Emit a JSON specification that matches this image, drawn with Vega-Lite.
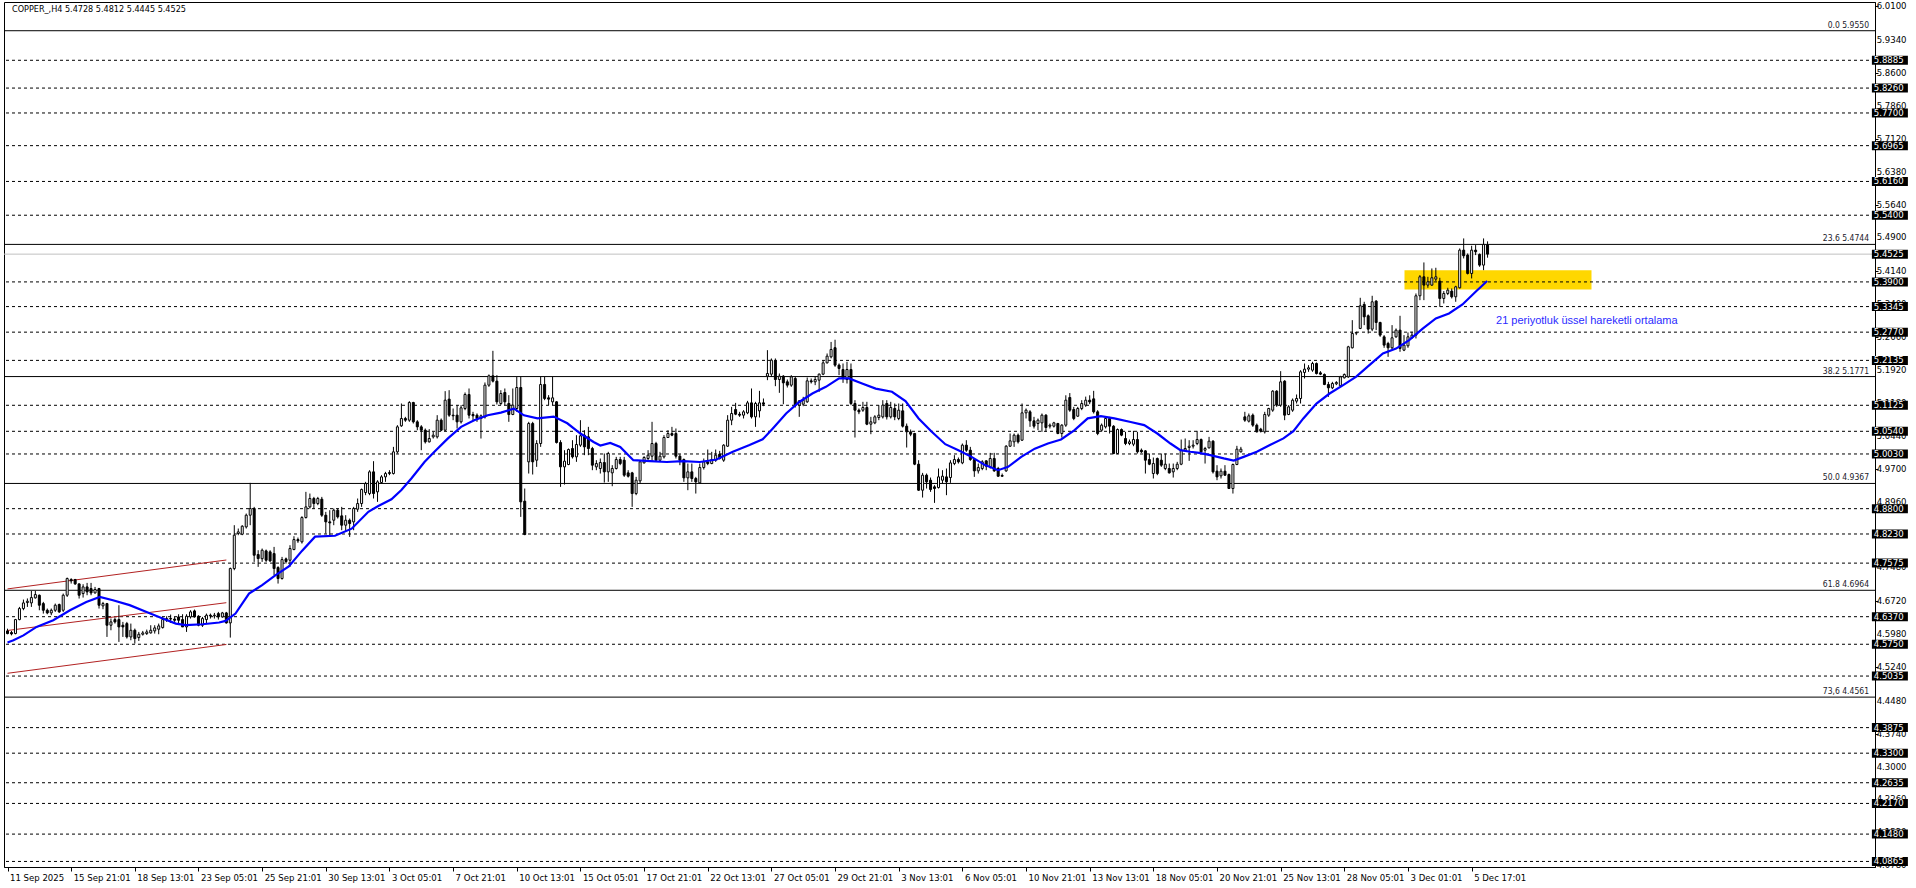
{
"$schema": "https://vega.github.io/schema/vega-lite/v6.json",
"width": 1871, "height": 865,
"autosize": {"type": "none"},
"padding": {"left": 4, "top": 2, "right": 41, "bottom": 21},
"background": "white",
"config": {"view": {"stroke": "black", "strokeWidth": 1}, "font": "DejaVu Sans Condensed, Liberation Sans, sans-serif",
 "axis": {"grid": false, "title": null, "tickColor": "black", "domainColor": "black", "labelColor": "black", "labelFontSize": 9.5, "labelOverlap": false, "labelFlush": false, "labelBound": false},
 "axisX": {"tickSize": 4, "labelAlign": "left", "labelOffset": 2, "labelPadding": 1, "labelBaseline": "top"},
 "axisY": {"tickSize": 3, "labels": false}},
"datasets": {
"ylabs": [{"v":6.01},{"v":5.934},{"v":5.86},{"v":5.786},{"v":5.712},{"v":5.638},{"v":5.564},{"v":5.49},{"v":5.414},{"v":5.34},{"v":5.266},{"v":5.192},{"v":5.118},{"v":5.044},{"v":4.97},{"v":4.896},{"v":4.822},{"v":4.748},{"v":4.672},{"v":4.598},{"v":4.524},{"v":4.448},{"v":4.374},{"v":4.3},{"v":4.226},{"v":4.152},{"v":4.078}],
"levels": [{"v":5.8885},{"v":5.826},{"v":5.77},{"v":5.6965},{"v":5.616},{"v":5.54},{"v":5.39},{"v":5.3345},{"v":5.277},{"v":5.2135},{"v":5.1125},{"v":5.054},{"v":5.003},{"v":4.88},{"v":4.823},{"v":4.7575},{"v":4.637},{"v":4.575},{"v":4.5035},{"v":4.3875},{"v":4.33},{"v":4.2635},{"v":4.217},{"v":4.148},{"v":4.0865}],
"boxes": [{"v":5.8885},{"v":5.826},{"v":5.77},{"v":5.6965},{"v":5.616},{"v":5.54},{"v":5.4525},{"v":5.39},{"v":5.3345},{"v":5.277},{"v":5.2135},{"v":5.1125},{"v":5.054},{"v":5.003},{"v":4.88},{"v":4.823},{"v":4.7575},{"v":4.637},{"v":4.575},{"v":4.5035},{"v":4.3875},{"v":4.33},{"v":4.2635},{"v":4.217},{"v":4.148},{"v":4.0865}],
"fib": [{"v":5.955,"t":"0.0 5.9550"},{"v":5.4744,"t":"23.6 5.4744"},{"v":5.1771,"t":"38.2 5.1771"},{"v":4.9367,"t":"50.0 4.9367"},{"v":4.6964,"t":"61.8 4.6964"},{"v":4.4561,"t":"73,6 4.4561"}],
"zone": [{"x1":351.125,"x2":398.125,"y1":5.373,"y2":5.4165}],
"chan": [{"g":"a","i":0,"p":4.6995},{"g":"a","i":55,"p":4.7645},{"g":"b","i":0,"p":4.606},{"g":"b","i":55,"p":4.6685},{"g":"c","i":0,"p":4.5097},{"g":"c","i":55,"p":4.5745}],
"ema": [{"i":0,"p":4.579},{"i":1.5,"p":4.584},{"i":4,"p":4.595},{"i":7.3,"p":4.614},{"i":11.5,"p":4.629},{"i":15.7,"p":4.6515},{"i":19.8,"p":4.67},{"i":23.2,"p":4.6815},{"i":26.5,"p":4.674},{"i":30.7,"p":4.663},{"i":34.8,"p":4.648},{"i":39,"p":4.633},{"i":42.3,"p":4.6215},{"i":44.8,"p":4.618},{"i":49,"p":4.62},{"i":53.2,"p":4.624},{"i":54.8,"p":4.6275},{"i":57.3,"p":4.644},{"i":60.7,"p":4.689},{"i":64,"p":4.708},{"i":67.3,"p":4.73},{"i":70.7,"p":4.75},{"i":74,"p":4.785},{"i":77.3,"p":4.817},{"i":82.3,"p":4.819},{"i":86.5,"p":4.835},{"i":90.7,"p":4.873},{"i":93.2,"p":4.886},{"i":96.5,"p":4.901},{"i":99,"p":4.922},{"i":101.5,"p":4.948},{"i":104.8,"p":4.985},{"i":107.3,"p":5.008},{"i":110.7,"p":5.038},{"i":114,"p":5.064},{"i":117.3,"p":5.079},{"i":120.7,"p":5.09},{"i":124,"p":5.096},{"i":127.3,"p":5.105},{"i":129.8,"p":5.09},{"i":133.2,"p":5.083},{"i":137.3,"p":5.087},{"i":140.7,"p":5.072},{"i":144,"p":5.049},{"i":147.3,"p":5.03},{"i":149,"p":5.022},{"i":151.5,"p":5.028},{"i":154,"p":5.019},{"i":157.3,"p":4.989},{"i":161.5,"p":4.987},{"i":165.7,"p":4.985},{"i":169.8,"p":4.987},{"i":174,"p":4.985},{"i":178.2,"p":4.9905},{"i":182.3,"p":5.008},{"i":186.5,"p":5.023},{"i":189.8,"p":5.036},{"i":192.3,"p":5.06},{"i":195.7,"p":5.094},{"i":199,"p":5.12},{"i":202.3,"p":5.139},{"i":205.7,"p":5.154},{"i":209,"p":5.173},{"i":211.5,"p":5.173},{"i":214.8,"p":5.1615},{"i":218.2,"p":5.15},{"i":222.3,"p":5.143},{"i":225.7,"p":5.122},{"i":229,"p":5.083},{"i":232.3,"p":5.053},{"i":235.7,"p":5.025},{"i":239,"p":5.0115},{"i":242.3,"p":4.9965},{"i":245.7,"p":4.978},{"i":249,"p":4.9665},{"i":251.5,"p":4.974},{"i":254.8,"p":4.9965},{"i":258.2,"p":5.015},{"i":261.5,"p":5.0265},{"i":264.8,"p":5.0355},{"i":268.2,"p":5.0565},{"i":271.5,"p":5.083},{"i":274.8,"p":5.088},{"i":278.2,"p":5.083},{"i":282.3,"p":5.075},{"i":285.7,"p":5.068},{"i":289,"p":5.049},{"i":292.3,"p":5.0265},{"i":294.8,"p":5.0115},{"i":297.3,"p":5.008},{"i":299.5,"p":5.0055},{"i":302.3,"p":5.0003},{"i":305.7,"p":4.993},{"i":308.2,"p":4.9883},{"i":310.7,"p":4.9965},{"i":314,"p":5.008},{"i":317.3,"p":5.023},{"i":320.7,"p":5.038},{"i":323.2,"p":5.0543},{"i":325.7,"p":5.083},{"i":329,"p":5.1165},{"i":332.3,"p":5.139},{"i":335.7,"p":5.158},{"i":339,"p":5.177},{"i":342.3,"p":5.203},{"i":345.7,"p":5.229},{"i":349,"p":5.24},{"i":352.3,"p":5.259},{"i":355.7,"p":5.285},{"i":359,"p":5.3078},{"i":362.3,"p":5.319},{"i":365.7,"p":5.3393},{"i":369,"p":5.3678},{"i":371.9,"p":5.392}],
"candles": [
{"i":0,"o":4.605,"h":4.61,"l":4.5975,"c":4.599},
{"i":1,"o":4.6013,"h":4.605,"l":4.595,"c":4.5983},
{"i":2,"o":4.599,"h":4.632,"l":4.5975,"c":4.6305},
{"i":3,"o":4.6305,"h":4.659,"l":4.629,"c":4.6553},
{"i":4,"o":4.6553,"h":4.6755,"l":4.6515,"c":4.668},
{"i":5,"o":4.6688,"h":4.678,"l":4.659,"c":4.6718},
{"i":6,"o":4.668,"h":4.695,"l":4.659,"c":4.68},
{"i":7,"o":4.6793,"h":4.695,"l":4.6778,"c":4.6868},
{"i":8,"o":4.6853,"h":4.6868,"l":4.6515,"c":4.6628},
{"i":9,"o":4.6665,"h":4.6703,"l":4.644,"c":4.6515},
{"i":10,"o":4.6515,"h":4.6553,"l":4.6425,"c":4.6455},
{"i":11,"o":4.6455,"h":4.6553,"l":4.6403,"c":4.6515},
{"i":12,"o":4.6515,"h":4.6665,"l":4.6478,"c":4.6628},
{"i":13,"o":4.6643,"h":4.6665,"l":4.6455,"c":4.6478},
{"i":14,"o":4.6515,"h":4.689,"l":4.6478,"c":4.6853},
{"i":15,"o":4.6853,"h":4.725,"l":4.6815,"c":4.7228},
{"i":16,"o":4.7205,"h":4.7235,"l":4.7115,"c":4.7175},
{"i":17,"o":4.7205,"h":4.722,"l":4.7085,"c":4.7108},
{"i":18,"o":4.7108,"h":4.7115,"l":4.6778,"c":4.6853},
{"i":19,"o":4.689,"h":4.71,"l":4.68,"c":4.704},
{"i":20,"o":4.704,"h":4.713,"l":4.6853,"c":4.6928},
{"i":21,"o":4.7003,"h":4.713,"l":4.6853,"c":4.6905},
{"i":22,"o":4.6905,"h":4.704,"l":4.689,"c":4.698},
{"i":23,"o":4.7003,"h":4.7018,"l":4.6553,"c":4.6628},
{"i":24,"o":4.6613,"h":4.6703,"l":4.6538,"c":4.6665},
{"i":25,"o":4.6665,"h":4.668,"l":4.5915,"c":4.6178},
{"i":26,"o":4.6178,"h":4.6328,"l":4.6065,"c":4.6253},
{"i":27,"o":4.6305,"h":4.635,"l":4.6215,"c":4.6253},
{"i":28,"o":4.6305,"h":4.6628,"l":4.5803,"c":4.614},
{"i":29,"o":4.6178,"h":4.6253,"l":4.5915,"c":4.614},
{"i":30,"o":4.6215,"h":4.6253,"l":4.5878,"c":4.5915},
{"i":31,"o":4.5915,"h":4.6215,"l":4.584,"c":4.6065},
{"i":32,"o":4.6065,"h":4.6103,"l":4.5765,"c":4.5878},
{"i":33,"o":4.59,"h":4.6028,"l":4.5825,"c":4.5975},
{"i":34,"o":4.5975,"h":4.605,"l":4.5945,"c":4.6005},
{"i":35,"o":4.599,"h":4.608,"l":4.596,"c":4.6028},
{"i":36,"o":4.6005,"h":4.6178,"l":4.599,"c":4.6065},
{"i":37,"o":4.605,"h":4.6178,"l":4.599,"c":4.6118},
{"i":38,"o":4.6088,"h":4.6215,"l":4.5975,"c":4.6163},
{"i":39,"o":4.6125,"h":4.6365,"l":4.6103,"c":4.6305},
{"i":40,"o":4.6298,"h":4.638,"l":4.6253,"c":4.6328},
{"i":41,"o":4.6328,"h":4.6418,"l":4.623,"c":4.6318},
{"i":42,"o":4.6318,"h":4.6365,"l":4.6253,"c":4.629},
{"i":43,"o":4.6365,"h":4.6425,"l":4.6215,"c":4.629},
{"i":44,"o":4.6305,"h":4.6425,"l":4.614,"c":4.614},
{"i":45,"o":4.614,"h":4.6425,"l":4.6028,"c":4.638},
{"i":46,"o":4.6365,"h":4.6515,"l":4.6328,"c":4.6478},
{"i":47,"o":4.65,"h":4.653,"l":4.635,"c":4.6365},
{"i":48,"o":4.638,"h":4.6403,"l":4.6155,"c":4.6178},
{"i":49,"o":4.6178,"h":4.6365,"l":4.614,"c":4.6328},
{"i":50,"o":4.6305,"h":4.644,"l":4.6215,"c":4.6403},
{"i":51,"o":4.6403,"h":4.644,"l":4.6328,"c":4.6388},
{"i":52,"o":4.6388,"h":4.6455,"l":4.6328,"c":4.6403},
{"i":53,"o":4.644,"h":4.6478,"l":4.6305,"c":4.6365},
{"i":54,"o":4.6365,"h":4.6478,"l":4.635,"c":4.6455},
{"i":55,"o":4.6455,"h":4.6478,"l":4.6215,"c":4.623},
{"i":56,"o":4.623,"h":4.7475,"l":4.59,"c":4.7453},
{"i":57,"o":4.7453,"h":4.8428,"l":4.7415,"c":4.8203},
{"i":58,"o":4.824,"h":4.8353,"l":4.8203,"c":4.8278},
{"i":59,"o":4.8225,"h":4.8428,"l":4.8203,"c":4.8405},
{"i":60,"o":4.839,"h":4.869,"l":4.8353,"c":4.8653},
{"i":61,"o":4.8653,"h":4.938,"l":4.8428,"c":4.8803},
{"i":62,"o":4.8803,"h":4.884,"l":4.7603,"c":4.7753},
{"i":63,"o":4.7768,"h":4.7865,"l":4.749,"c":4.7678},
{"i":64,"o":4.7675,"h":4.7903,"l":4.7603,"c":4.7865},
{"i":65,"o":4.785,"h":4.788,"l":4.7603,"c":4.764},
{"i":66,"o":4.7828,"h":4.7865,"l":4.7603,"c":4.7625},
{"i":67,"o":4.779,"h":4.794,"l":4.7303,"c":4.7453},
{"i":68,"o":4.7475,"h":4.7505,"l":4.7115,"c":4.7228},
{"i":69,"o":4.7228,"h":4.7715,"l":4.7205,"c":4.7655},
{"i":70,"o":4.767,"h":4.77,"l":4.7565,"c":4.761},
{"i":71,"o":4.764,"h":4.7978,"l":4.749,"c":4.7903},
{"i":72,"o":4.788,"h":4.818,"l":4.7865,"c":4.8105},
{"i":73,"o":4.8105,"h":4.815,"l":4.803,"c":4.8075},
{"i":74,"o":4.8053,"h":4.863,"l":4.8015,"c":4.86},
{"i":75,"o":4.86,"h":4.9178,"l":4.8578,"c":4.884},
{"i":76,"o":4.884,"h":4.914,"l":4.8803,"c":4.9028},
{"i":77,"o":4.9028,"h":4.9065,"l":4.8803,"c":4.8915},
{"i":78,"o":4.8915,"h":4.9065,"l":4.8878,"c":4.9028},
{"i":79,"o":4.9013,"h":4.9065,"l":4.8615,"c":4.8653},
{"i":80,"o":4.8653,"h":4.8728,"l":4.824,"c":4.8503},
{"i":81,"o":4.8503,"h":4.8765,"l":4.8203,"c":4.848},
{"i":82,"o":4.854,"h":4.8803,"l":4.8428,"c":4.8765},
{"i":83,"o":4.8765,"h":4.8803,"l":4.8578,"c":4.8615},
{"i":84,"o":4.8638,"h":4.884,"l":4.8315,"c":4.8428},
{"i":85,"o":4.8428,"h":4.8653,"l":4.8278,"c":4.854},
{"i":86,"o":4.854,"h":4.8578,"l":4.8165,"c":4.8465},
{"i":87,"o":4.8503,"h":4.884,"l":4.8315,"c":4.8803},
{"i":88,"o":4.8788,"h":4.9028,"l":4.8728,"c":4.8915},
{"i":89,"o":4.8915,"h":4.9253,"l":4.884,"c":4.923},
{"i":90,"o":4.9163,"h":4.9403,"l":4.9103,"c":4.9365},
{"i":91,"o":4.914,"h":4.9665,"l":4.9103,"c":4.9628},
{"i":92,"o":4.9628,"h":4.9868,"l":4.9028,"c":4.914},
{"i":93,"o":4.9178,"h":4.944,"l":4.8953,"c":4.9403},
{"i":94,"o":4.9388,"h":4.9553,"l":4.9365,"c":4.9515},
{"i":95,"o":4.9515,"h":4.9628,"l":4.9403,"c":4.959},
{"i":96,"o":4.959,"h":4.9665,"l":4.9553,"c":4.9613},
{"i":97,"o":4.959,"h":5.019,"l":4.9568,"c":5.0078},
{"i":98,"o":5.0078,"h":5.0678,"l":5.004,"c":5.064},
{"i":99,"o":5.0663,"h":5.1165,"l":5.064,"c":5.0828},
{"i":100,"o":5.0828,"h":5.0865,"l":5.0753,"c":5.079},
{"i":101,"o":5.079,"h":5.1218,"l":5.0753,"c":5.1188},
{"i":102,"o":5.1188,"h":5.1203,"l":5.0715,"c":5.0753},
{"i":103,"o":5.0753,"h":5.079,"l":5.0565,"c":5.064},
{"i":104,"o":5.064,"h":5.0678,"l":5.0115,"c":5.0565},
{"i":105,"o":5.0565,"h":5.0603,"l":5.0265,"c":5.0303},
{"i":106,"o":5.0303,"h":5.0588,"l":5.0288,"c":5.0378},
{"i":107,"o":5.0415,"h":5.0528,"l":5.0378,"c":5.0453},
{"i":108,"o":5.0415,"h":5.0903,"l":5.0378,"c":5.079},
{"i":109,"o":5.079,"h":5.0828,"l":5.0543,"c":5.0565},
{"i":110,"o":5.0565,"h":5.1443,"l":5.0543,"c":5.124},
{"i":111,"o":5.1263,"h":5.1465,"l":5.0865,"c":5.0903},
{"i":112,"o":5.0903,"h":5.1053,"l":5.079,"c":5.0888},
{"i":113,"o":5.0903,"h":5.1128,"l":5.0603,"c":5.0753},
{"i":114,"o":5.0753,"h":5.1128,"l":5.0715,"c":5.1068},
{"i":115,"o":5.1053,"h":5.1413,"l":5.1015,"c":5.1368},
{"i":116,"o":5.1368,"h":5.1503,"l":5.0828,"c":5.0903},
{"i":117,"o":5.0918,"h":5.0978,"l":5.079,"c":5.0888},
{"i":118,"o":5.0903,"h":5.0943,"l":5.0753,"c":5.0828},
{"i":119,"o":5.0828,"h":5.0918,"l":5.0378,"c":5.0888},
{"i":120,"o":5.0865,"h":5.1638,"l":5.0828,"c":5.1578},
{"i":121,"o":5.1578,"h":5.1818,"l":5.154,"c":5.1788},
{"i":122,"o":5.1788,"h":5.235,"l":5.1638,"c":5.1668},
{"i":123,"o":5.1668,"h":5.1803,"l":5.1143,"c":5.1203},
{"i":124,"o":5.1165,"h":5.1465,"l":5.1128,"c":5.139},
{"i":125,"o":5.1413,"h":5.1503,"l":5.1128,"c":5.1203},
{"i":126,"o":5.1165,"h":5.1353,"l":5.0753,"c":5.0918},
{"i":127,"o":5.0918,"h":5.1503,"l":5.0903,"c":5.1128},
{"i":128,"o":5.1053,"h":5.1765,"l":5.0978,"c":5.1525},
{"i":129,"o":5.1525,"h":5.1765,"l":4.8615,"c":4.8953},
{"i":130,"o":4.8968,"h":4.9253,"l":4.8203,"c":4.8218},
{"i":131,"o":4.9853,"h":5.0753,"l":4.959,"c":5.0715},
{"i":132,"o":5.0715,"h":5.0753,"l":4.9568,"c":4.9853},
{"i":133,"o":4.989,"h":5.034,"l":4.974,"c":5.0265},
{"i":134,"o":5.0265,"h":5.1765,"l":5.019,"c":5.1593},
{"i":135,"o":5.1593,"h":5.1765,"l":5.124,"c":5.1278},
{"i":136,"o":5.1293,"h":5.1353,"l":5.1128,"c":5.1263},
{"i":137,"o":5.1203,"h":5.1765,"l":5.1128,"c":5.1293},
{"i":138,"o":5.1203,"h":5.1218,"l":5.0265,"c":5.0288},
{"i":139,"o":5.0288,"h":5.034,"l":4.929,"c":4.974},
{"i":140,"o":4.974,"h":5.0115,"l":4.9343,"c":4.9868},
{"i":141,"o":4.9793,"h":5.0153,"l":4.9778,"c":5.013},
{"i":142,"o":5.0153,"h":5.034,"l":4.9928,"c":4.9965},
{"i":143,"o":4.9965,"h":5.0453,"l":4.9853,"c":5.0243},
{"i":144,"o":5.0228,"h":5.079,"l":5.019,"c":5.0438},
{"i":145,"o":5.0453,"h":5.0565,"l":5.0003,"c":5.019},
{"i":146,"o":5.0415,"h":5.064,"l":5.0003,"c":5.0153},
{"i":147,"o":5.0153,"h":5.019,"l":4.9665,"c":4.9778},
{"i":148,"o":4.974,"h":4.989,"l":4.9665,"c":4.9815},
{"i":149,"o":4.9703,"h":4.9928,"l":4.959,"c":4.9838},
{"i":150,"o":4.9838,"h":5.004,"l":4.9388,"c":4.9628},
{"i":151,"o":4.9628,"h":5.0078,"l":4.9403,"c":5.004},
{"i":152,"o":4.9605,"h":4.9778,"l":4.9305,"c":4.9703},
{"i":153,"o":4.9703,"h":4.9965,"l":4.968,"c":4.9905},
{"i":154,"o":4.9905,"h":4.9965,"l":4.9778,"c":4.9815},
{"i":155,"o":4.989,"h":4.9965,"l":4.9515,"c":4.9553},
{"i":156,"o":4.9605,"h":4.9665,"l":4.95,"c":4.953},
{"i":157,"o":4.9605,"h":4.9628,"l":4.884,"c":4.914},
{"i":158,"o":4.914,"h":4.9515,"l":4.9103,"c":4.944},
{"i":159,"o":4.9425,"h":4.989,"l":4.9365,"c":4.9853},
{"i":160,"o":4.983,"h":4.998,"l":4.9815,"c":4.995},
{"i":161,"o":4.9928,"h":5.0115,"l":4.989,"c":5.0003},
{"i":162,"o":4.998,"h":5.0753,"l":4.9853,"c":5.0265},
{"i":163,"o":5.0265,"h":5.0303,"l":4.9853,"c":4.989},
{"i":164,"o":4.989,"h":5.0078,"l":4.9875,"c":4.998},
{"i":165,"o":4.9965,"h":5.0453,"l":4.9928,"c":5.04},
{"i":166,"o":5.04,"h":5.0565,"l":5.04,"c":5.049},
{"i":167,"o":5.049,"h":5.064,"l":5.043,"c":5.0453},
{"i":168,"o":5.049,"h":5.0603,"l":4.9928,"c":4.998},
{"i":169,"o":4.998,"h":5.0025,"l":4.9778,"c":4.989},
{"i":170,"o":4.9905,"h":4.9928,"l":4.9403,"c":4.9493},
{"i":171,"o":4.9493,"h":4.9815,"l":4.9215,"c":4.9628},
{"i":172,"o":4.9628,"h":4.9815,"l":4.9403,"c":4.9478},
{"i":173,"o":4.9478,"h":4.9515,"l":4.914,"c":4.9403},
{"i":174,"o":4.938,"h":4.9815,"l":4.9365,"c":4.9725},
{"i":175,"o":4.9725,"h":4.9928,"l":4.968,"c":4.9853},
{"i":176,"o":4.9853,"h":5.013,"l":4.9778,"c":4.9815},
{"i":177,"o":4.9815,"h":5.0078,"l":4.98,"c":4.9905},
{"i":178,"o":4.989,"h":5.013,"l":4.9853,"c":5.0003},
{"i":179,"o":5.0025,"h":5.01,"l":4.9905,"c":4.9928},
{"i":180,"o":4.989,"h":5.025,"l":4.9853,"c":5.0228},
{"i":181,"o":5.0205,"h":5.0903,"l":5.019,"c":5.079},
{"i":182,"o":5.079,"h":5.109,"l":5.0678,"c":5.094},
{"i":183,"o":5.103,"h":5.118,"l":5.0903,"c":5.0925},
{"i":184,"o":5.0925,"h":5.0978,"l":5.0865,"c":5.0903},
{"i":185,"o":5.0903,"h":5.1015,"l":5.0828,"c":5.0978},
{"i":186,"o":5.0955,"h":5.1225,"l":5.0925,"c":5.118},
{"i":187,"o":5.118,"h":5.1503,"l":5.0828,"c":5.0865},
{"i":188,"o":5.0865,"h":5.1203,"l":5.064,"c":5.1165},
{"i":189,"o":5.1,"h":5.145,"l":5.085,"c":5.118},
{"i":190,"o":5.118,"h":5.1278,"l":5.1105,"c":5.115},
{"i":191,"o":5.178,"h":5.2365,"l":5.169,"c":5.184},
{"i":192,"o":5.1825,"h":5.2178,"l":5.1765,"c":5.214},
{"i":193,"o":5.2125,"h":5.2178,"l":5.1555,"c":5.1705},
{"i":194,"o":5.1705,"h":5.184,"l":5.1405,"c":5.178},
{"i":195,"o":5.178,"h":5.1803,"l":5.115,"c":5.163},
{"i":196,"o":5.1653,"h":5.1705,"l":5.1525,"c":5.1578},
{"i":197,"o":5.1578,"h":5.1803,"l":5.154,"c":5.1765},
{"i":198,"o":5.1728,"h":5.1765,"l":5.1075,"c":5.1128},
{"i":199,"o":5.1128,"h":5.124,"l":5.0865,"c":5.1225},
{"i":200,"o":5.115,"h":5.1315,"l":5.1105,"c":5.124},
{"i":201,"o":5.1203,"h":5.175,"l":5.118,"c":5.1675},
{"i":202,"o":5.1675,"h":5.1728,"l":5.1615,"c":5.1653},
{"i":203,"o":5.1653,"h":5.1765,"l":5.1578,"c":5.1705},
{"i":204,"o":5.169,"h":5.184,"l":5.1428,"c":5.1825},
{"i":205,"o":5.1825,"h":5.214,"l":5.1803,"c":5.208},
{"i":206,"o":5.208,"h":5.229,"l":5.2065,"c":5.223},
{"i":207,"o":5.2215,"h":5.255,"l":5.218,"c":5.238},
{"i":208,"o":5.242,"h":5.26,"l":5.199,"c":5.2028},
{"i":209,"o":5.2028,"h":5.2065,"l":5.1803,"c":5.1953},
{"i":210,"o":5.193,"h":5.2065,"l":5.163,"c":5.1728},
{"i":211,"o":5.1705,"h":5.2103,"l":5.1615,"c":5.193},
{"i":212,"o":5.193,"h":5.2065,"l":5.1128,"c":5.1165},
{"i":213,"o":5.1165,"h":5.124,"l":5.04,"c":5.1015},
{"i":214,"o":5.1015,"h":5.1053,"l":5.0925,"c":5.0978},
{"i":215,"o":5.1015,"h":5.1203,"l":5.0978,"c":5.1075},
{"i":216,"o":5.1075,"h":5.1203,"l":5.0678,"c":5.07},
{"i":217,"o":5.07,"h":5.0865,"l":5.0475,"c":5.0753},
{"i":218,"o":5.073,"h":5.0903,"l":5.07,"c":5.0865},
{"i":219,"o":5.085,"h":5.1128,"l":5.079,"c":5.0903},
{"i":220,"o":5.0865,"h":5.124,"l":5.0828,"c":5.1128},
{"i":221,"o":5.1165,"h":5.124,"l":5.0805,"c":5.0865},
{"i":222,"o":5.0865,"h":5.1203,"l":5.0828,"c":5.1075},
{"i":223,"o":5.1053,"h":5.1165,"l":5.079,"c":5.0865},
{"i":224,"o":5.0828,"h":5.1165,"l":5.079,"c":5.1015},
{"i":225,"o":5.1,"h":5.1165,"l":5.0625,"c":5.0655},
{"i":226,"o":5.0655,"h":5.0715,"l":5.0175,"c":5.0528},
{"i":227,"o":5.0528,"h":5.058,"l":5.043,"c":5.0475},
{"i":228,"o":5.049,"h":5.0505,"l":4.9778,"c":4.98},
{"i":229,"o":4.98,"h":4.989,"l":4.92,"c":4.9215},
{"i":230,"o":4.9215,"h":4.9605,"l":4.905,"c":4.9553},
{"i":231,"o":4.9553,"h":4.959,"l":4.9253,"c":4.9403},
{"i":232,"o":4.944,"h":4.95,"l":4.9178,"c":4.923},
{"i":233,"o":4.929,"h":4.9328,"l":4.893,"c":4.9253},
{"i":234,"o":4.9275,"h":4.9703,"l":4.9253,"c":4.9515},
{"i":235,"o":4.944,"h":4.9665,"l":4.9365,"c":4.953},
{"i":236,"o":4.9515,"h":4.9703,"l":4.9103,"c":4.9403},
{"i":237,"o":4.95,"h":4.989,"l":4.938,"c":4.983},
{"i":238,"o":4.9815,"h":5.0003,"l":4.9778,"c":4.9905},
{"i":239,"o":4.9905,"h":4.995,"l":4.9815,"c":4.9853},
{"i":240,"o":4.983,"h":5.0265,"l":4.98,"c":5.0228},
{"i":241,"o":5.0228,"h":5.034,"l":5.0078,"c":5.0115},
{"i":242,"o":5.0115,"h":5.019,"l":4.9875,"c":4.9905},
{"i":243,"o":4.9905,"h":4.9928,"l":4.9515,"c":4.965},
{"i":244,"o":4.965,"h":4.9815,"l":4.959,"c":4.9725},
{"i":245,"o":4.9703,"h":4.989,"l":4.9665,"c":4.9853},
{"i":246,"o":4.9875,"h":4.989,"l":4.9665,"c":4.9755},
{"i":247,"o":4.974,"h":5.0055,"l":4.9703,"c":4.9928},
{"i":248,"o":4.9928,"h":5.0055,"l":4.9628,"c":4.965},
{"i":249,"o":4.9703,"h":4.974,"l":4.9515,"c":4.953},
{"i":250,"o":4.9545,"h":4.959,"l":4.9515,"c":4.953},
{"i":251,"o":4.965,"h":5.0228,"l":4.9628,"c":5.0205},
{"i":252,"o":5.0205,"h":5.049,"l":5.019,"c":5.0325},
{"i":253,"o":5.0303,"h":5.049,"l":5.019,"c":5.0453},
{"i":254,"o":5.0453,"h":5.049,"l":5.0265,"c":5.0303},
{"i":255,"o":5.034,"h":5.1165,"l":5.0325,"c":5.0955},
{"i":256,"o":5.0955,"h":5.1053,"l":5.0828,"c":5.1015},
{"i":257,"o":5.0978,"h":5.1015,"l":5.064,"c":5.0775},
{"i":258,"o":5.0775,"h":5.0865,"l":5.0603,"c":5.0655},
{"i":259,"o":5.0715,"h":5.0828,"l":5.0565,"c":5.079},
{"i":260,"o":5.073,"h":5.094,"l":5.0528,"c":5.0903},
{"i":261,"o":5.0903,"h":5.0925,"l":5.0528,"c":5.0625},
{"i":262,"o":5.0655,"h":5.0715,"l":5.0603,"c":5.0678},
{"i":263,"o":5.0655,"h":5.0753,"l":5.0625,"c":5.073},
{"i":264,"o":5.0715,"h":5.073,"l":5.0475,"c":5.049},
{"i":265,"o":5.049,"h":5.07,"l":5.04,"c":5.0678},
{"i":266,"o":5.0678,"h":5.135,"l":5.064,"c":5.124},
{"i":267,"o":5.13,"h":5.14,"l":5.0978,"c":5.1015},
{"i":268,"o":5.103,"h":5.109,"l":5.079,"c":5.0828},
{"i":269,"o":5.088,"h":5.109,"l":5.0865,"c":5.1053},
{"i":270,"o":5.1053,"h":5.124,"l":5.1015,"c":5.1165},
{"i":271,"o":5.1128,"h":5.132,"l":5.109,"c":5.124},
{"i":272,"o":5.124,"h":5.135,"l":5.115,"c":5.12},
{"i":273,"o":5.127,"h":5.145,"l":5.094,"c":5.0978},
{"i":274,"o":5.0978,"h":5.1015,"l":5.0453,"c":5.049},
{"i":275,"o":5.0565,"h":5.0715,"l":5.0528,"c":5.0678},
{"i":276,"o":5.064,"h":5.0865,"l":5.0603,"c":5.0828},
{"i":277,"o":5.0828,"h":5.0865,"l":5.049,"c":5.0655},
{"i":278,"o":5.0655,"h":5.0678,"l":5.0025,"c":5.004},
{"i":279,"o":5.004,"h":5.0603,"l":5.0025,"c":5.058},
{"i":280,"o":5.058,"h":5.0603,"l":5.043,"c":5.0453},
{"i":281,"o":5.0378,"h":5.0528,"l":5.0228,"c":5.0265},
{"i":282,"o":5.0265,"h":5.0355,"l":5.0228,"c":5.0303},
{"i":283,"o":5.025,"h":5.055,"l":5.0205,"c":5.0355},
{"i":284,"o":5.0355,"h":5.0528,"l":5.004,"c":5.0078},
{"i":285,"o":5.0115,"h":5.0153,"l":5.0055,"c":5.0078},
{"i":286,"o":5.01,"h":5.0115,"l":4.959,"c":4.989},
{"i":287,"o":4.9905,"h":5.004,"l":4.9778,"c":4.98},
{"i":288,"o":4.959,"h":4.995,"l":4.9478,"c":4.9815},
{"i":289,"o":4.9928,"h":4.995,"l":4.9553,"c":4.959},
{"i":290,"o":4.989,"h":5.004,"l":4.974,"c":4.9778},
{"i":291,"o":4.9703,"h":5.004,"l":4.9665,"c":4.98},
{"i":292,"o":4.9703,"h":4.9815,"l":4.959,"c":4.9605},
{"i":293,"o":4.9628,"h":4.9815,"l":4.95,"c":4.9703},
{"i":294,"o":4.9703,"h":4.9853,"l":4.9665,"c":4.98},
{"i":295,"o":4.98,"h":5.0355,"l":4.9778,"c":5.0115},
{"i":296,"o":5.0115,"h":5.0378,"l":5.01,"c":5.0153},
{"i":297,"o":5.0175,"h":5.034,"l":4.9875,"c":5.0205},
{"i":298,"o":5.0205,"h":5.034,"l":5.0153,"c":5.0228},
{"i":299,"o":5.0265,"h":5.055,"l":5.0228,"c":5.0355},
{"i":300,"o":5.0355,"h":5.0378,"l":5.0055,"c":5.0078},
{"i":301,"o":5.0115,"h":5.019,"l":4.9815,"c":5.0153},
{"i":302,"o":5.0168,"h":5.0415,"l":5.0153,"c":5.0318},
{"i":303,"o":5.0318,"h":5.034,"l":4.959,"c":4.9628},
{"i":304,"o":4.9643,"h":4.9778,"l":4.944,"c":4.9515},
{"i":305,"o":4.9538,"h":4.9703,"l":4.9478,"c":4.9643},
{"i":306,"o":4.9643,"h":4.9778,"l":4.9538,"c":4.9553},
{"i":307,"o":4.9568,"h":4.959,"l":4.9253,"c":4.9253},
{"i":308,"o":4.9253,"h":4.9815,"l":4.914,"c":4.9793},
{"i":309,"o":4.9793,"h":5.0213,"l":4.9778,"c":5.0138},
{"i":310,"o":5.0078,"h":5.019,"l":5.0063,"c":5.0138},
{"i":311,"o":5.0865,"h":5.0978,"l":5.0753,"c":5.079},
{"i":312,"o":5.0768,"h":5.094,"l":5.0738,"c":5.0888},
{"i":313,"o":5.0903,"h":5.094,"l":5.064,"c":5.0678},
{"i":314,"o":5.0678,"h":5.0715,"l":5.0513,"c":5.0528},
{"i":315,"o":5.0588,"h":5.0618,"l":5.0513,"c":5.0543},
{"i":316,"o":5.0528,"h":5.0978,"l":5.049,"c":5.0918},
{"i":317,"o":5.0903,"h":5.1068,"l":5.0865,"c":5.1053},
{"i":318,"o":5.1015,"h":5.1465,"l":5.0978,"c":5.1443},
{"i":319,"o":5.1443,"h":5.1465,"l":5.109,"c":5.1128},
{"i":320,"o":5.1128,"h":5.1893,"l":5.109,"c":5.1653},
{"i":321,"o":5.1668,"h":5.169,"l":5.079,"c":5.0903},
{"i":322,"o":5.0918,"h":5.1128,"l":5.0903,"c":5.109},
{"i":323,"o":5.1015,"h":5.1278,"l":5.0978,"c":5.124},
{"i":324,"o":5.1218,"h":5.1368,"l":5.1165,"c":5.1278},
{"i":325,"o":5.1278,"h":5.1915,"l":5.1165,"c":5.1878},
{"i":326,"o":5.1863,"h":5.2065,"l":5.1728,"c":5.1938},
{"i":327,"o":5.1938,"h":5.2028,"l":5.1878,"c":5.1968},
{"i":328,"o":5.1915,"h":5.2103,"l":5.1878,"c":5.2065},
{"i":329,"o":5.2065,"h":5.2088,"l":5.1818,"c":5.184},
{"i":330,"o":5.1855,"h":5.1893,"l":5.1803,"c":5.1825},
{"i":331,"o":5.1818,"h":5.184,"l":5.1578,"c":5.1593},
{"i":332,"o":5.1593,"h":5.1653,"l":5.1315,"c":5.1518},
{"i":333,"o":5.1518,"h":5.1653,"l":5.1488,"c":5.1615},
{"i":334,"o":5.1608,"h":5.1668,"l":5.1578,"c":5.1638},
{"i":335,"o":5.1563,"h":5.1788,"l":5.154,"c":5.1765},
{"i":336,"o":5.1743,"h":5.184,"l":5.1728,"c":5.1818},
{"i":337,"o":5.1765,"h":5.2463,"l":5.1743,"c":5.244},
{"i":338,"o":5.2418,"h":5.304,"l":5.2403,"c":5.274},
{"i":339,"o":5.2748,"h":5.2778,"l":5.2703,"c":5.2763},
{"i":340,"o":5.2853,"h":5.3543,"l":5.2838,"c":5.3363},
{"i":341,"o":5.3393,"h":5.3453,"l":5.2928,"c":5.3115},
{"i":342,"o":5.3138,"h":5.3168,"l":5.274,"c":5.2838},
{"i":343,"o":5.2838,"h":5.3588,"l":5.2793,"c":5.3453},
{"i":344,"o":5.3468,"h":5.349,"l":5.2815,"c":5.2988},
{"i":345,"o":5.2988,"h":5.3003,"l":5.2665,"c":5.2703},
{"i":346,"o":5.2665,"h":5.2703,"l":5.2418,"c":5.2478},
{"i":347,"o":5.2515,"h":5.2553,"l":5.2215,"c":5.2418},
{"i":348,"o":5.2418,"h":5.2928,"l":5.2388,"c":5.2643},
{"i":349,"o":5.2665,"h":5.2853,"l":5.2643,"c":5.2815},
{"i":350,"o":5.2815,"h":5.3138,"l":5.2328,"c":5.2403},
{"i":351,"o":5.2365,"h":5.2703,"l":5.2343,"c":5.2478},
{"i":352,"o":5.2463,"h":5.2763,"l":5.2418,"c":5.2665},
{"i":353,"o":5.2643,"h":5.2778,"l":5.2628,"c":5.2703},
{"i":354,"o":5.2703,"h":5.364,"l":5.2628,"c":5.3588},
{"i":355,"o":5.3588,"h":5.4053,"l":5.349,"c":5.4015},
{"i":356,"o":5.4015,"h":5.4338,"l":5.349,"c":5.3828},
{"i":357,"o":5.3828,"h":5.4015,"l":5.3768,"c":5.3903},
{"i":358,"o":5.3828,"h":5.4203,"l":5.3813,"c":5.3993},
{"i":359,"o":5.3963,"h":5.4218,"l":5.3918,"c":5.4015},
{"i":360,"o":5.3918,"h":5.3993,"l":5.334,"c":5.3528},
{"i":361,"o":5.3528,"h":5.3693,"l":5.3415,"c":5.364},
{"i":362,"o":5.364,"h":5.3768,"l":5.3603,"c":5.3715},
{"i":363,"o":5.3693,"h":5.3753,"l":5.3528,"c":5.3565},
{"i":364,"o":5.3565,"h":5.3813,"l":5.3453,"c":5.379},
{"i":365,"o":5.3768,"h":5.4653,"l":5.3753,"c":5.4615},
{"i":366,"o":5.4615,"h":5.4878,"l":5.4428,"c":5.4488},
{"i":367,"o":5.4503,"h":5.454,"l":5.4068,"c":5.409},
{"i":368,"o":5.409,"h":5.4713,"l":5.3978,"c":5.4615},
{"i":369,"o":5.4615,"h":5.4728,"l":5.4503,"c":5.4578},
{"i":370,"o":5.4518,"h":5.454,"l":5.424,"c":5.4278},
{"i":371,"o":5.4278,"h":5.4878,"l":5.4165,"c":5.4743},
{"i":372,"o":5.4728,"h":5.4812,"l":5.4445,"c":5.4525}
]
},
"layer": [
{"data": {"name": "zone"}, "mark": {"type": "rect", "color": "#ffd700"},
 "encoding": {
  "x": {"field": "x1", "type": "quantitative", "scale": {"domain": [0.375, 468.125], "nice": false, "zero": false},
   "axis": {"orient": "bottom", "values": [0,16,32,48,64,80,96,112,128,144,160,176,192,208,224,240,256,272,288,304,320,336,352,368],
    "labelExpr": "['11 Sep 2025','15 Sep 21:01','18 Sep 13:01','23 Sep 05:01','25 Sep 21:01','30 Sep 13:01','3 Oct 05:01','7 Oct 21:01','10 Oct 13:01','15 Oct 05:01','17 Oct 21:01','22 Oct 13:01','27 Oct 05:01','29 Oct 21:01','3 Nov 13:01','6 Nov 05:01','10 Nov 21:01','13 Nov 13:01','18 Nov 05:01','20 Nov 21:01','25 Nov 13:01','28 Nov 05:01','3 Dec 01:01','5 Dec 17:01'][round(datum.value/16)]"}},
  "x2": {"field": "x2"},
  "y": {"field": "y1", "type": "quantitative", "scale": {"domain": [4.074, 6.0196], "nice": false, "zero": false},
   "axis": {"orient": "right", "values": [6.01,5.934,5.86,5.786,5.712,5.638,5.564,5.49,5.414,5.34,5.266,5.192,5.118,5.044,4.97,4.896,4.822,4.748,4.672,4.598,4.524,4.448,4.374,4.3,4.226,4.152,4.078]}},
  "y2": {"field": "y2"}
 }},
{"data": {"name": "levels"}, "mark": {"type": "rule", "color": "black", "strokeWidth": 1, "strokeDash": [3, 3]},
 "encoding": {"y": {"field": "v", "type": "quantitative", "scale": {"domain": [4.074, 6.0196], "nice": false, "zero": false}}}},
{"data": {"values": [{"v": 5.4525}]}, "mark": {"type": "rule", "color": "#c0c0c0", "strokeWidth": 1},
 "encoding": {"y": {"field": "v", "type": "quantitative", "scale": {"domain": [4.074, 6.0196], "nice": false, "zero": false}}}},
{"data": {"name": "fib"}, "mark": {"type": "rule", "color": "black", "strokeWidth": 1},
 "encoding": {"y": {"field": "v", "type": "quantitative", "scale": {"domain": [4.074, 6.0196], "nice": false, "zero": false}}}},
{"data": {"name": "fib"}, "mark": {"type": "text", "align": "right", "baseline": "bottom", "dy": -1, "fontSize": 8.5, "color": "#1a1a2a"},
 "encoding": {
  "x": {"datum": 467.875, "type": "quantitative", "scale": {"domain": [0.375, 468.125], "nice": false, "zero": false}},
  "y": {"field": "v", "type": "quantitative", "scale": {"domain": [4.074, 6.0196], "nice": false, "zero": false}},
  "text": {"field": "t"}}},
{"data": {"name": "chan"}, "mark": {"type": "line", "color": "#b22222", "strokeWidth": 1},
 "encoding": {
  "x": {"field": "i", "type": "quantitative", "scale": {"domain": [0.375, 468.125], "nice": false, "zero": false}},
  "y": {"field": "p", "type": "quantitative", "scale": {"domain": [4.074, 6.0196], "nice": false, "zero": false}},
  "detail": {"field": "g"}}},
{"data": {"name": "candles"}, "mark": {"type": "rule", "color": "black", "strokeWidth": 1},
 "encoding": {
  "x": {"field": "i", "type": "quantitative", "scale": {"domain": [0.375, 468.125], "nice": false, "zero": false}},
  "y": {"field": "l", "type": "quantitative", "scale": {"domain": [4.074, 6.0196], "nice": false, "zero": false}},
  "y2": {"field": "h"}}},
{"data": {"name": "candles"}, "mark": {"type": "bar", "width": 2, "stroke": "black", "strokeWidth": 1},
 "encoding": {
  "x": {"field": "i", "type": "quantitative", "scale": {"domain": [0.375, 468.125], "nice": false, "zero": false}},
  "y": {"field": "o", "type": "quantitative", "scale": {"domain": [4.074, 6.0196], "nice": false, "zero": false}},
  "y2": {"field": "c"},
  "fill": {"condition": {"test": "datum.c >= datum.o", "value": "white"}, "value": "black"}}},
{"data": {"name": "ema"}, "mark": {"type": "line", "color": "#0000ff", "strokeWidth": 2.2},
 "encoding": {
  "x": {"field": "i", "type": "quantitative", "scale": {"domain": [0.375, 468.125], "nice": false, "zero": false}},
  "y": {"field": "p", "type": "quantitative", "scale": {"domain": [4.074, 6.0196], "nice": false, "zero": false}}}},
{"data": {"values": [{"i": 374.125, "p": 5.3024, "t": "21 periyotluk üssel hareketli ortalama"}]},
 "mark": {"type": "text", "align": "left", "baseline": "middle", "font": "Liberation Sans", "fontSize": 11, "color": "#2b2bff"},
 "encoding": {
  "x": {"field": "i", "type": "quantitative", "scale": {"domain": [0.375, 468.125], "nice": false, "zero": false}},
  "y": {"field": "p", "type": "quantitative", "scale": {"domain": [4.074, 6.0196], "nice": false, "zero": false}},
  "text": {"field": "t"}}},
{"data": {"values": [{"i": 1.125, "p": 6.0035, "t": "COPPER_,H4  5.4728 5.4812 5.4445 5.4525"}]},
 "mark": {"type": "text", "align": "left", "baseline": "middle", "fontSize": 9, "color": "black"},
 "encoding": {
  "x": {"field": "i", "type": "quantitative", "scale": {"domain": [0.375, 468.125], "nice": false, "zero": false}},
  "y": {"field": "p", "type": "quantitative", "scale": {"domain": [4.074, 6.0196], "nice": false, "zero": false}},
  "text": {"field": "t"}}},
{"data": {"name": "ylabs"}, "mark": {"type": "text", "align": "left", "baseline": "middle", "fontSize": 9.5, "color": "black"},
 "encoding": {
  "x": {"datum": 469.8, "type": "quantitative", "scale": {"domain": [0.375, 468.125], "nice": false, "zero": false}},
  "y": {"field": "v", "type": "quantitative", "scale": {"domain": [4.074, 6.0196], "nice": false, "zero": false}},
  "text": {"field": "v", "format": ".4f"}}},
{"data": {"name": "boxes"}, "mark": {"type": "point", "shape": "M-2,-0.5H2V0.5H-2Z", "size": 324, "filled": true, "color": "black", "opacity": 1, "strokeWidth": 0},
 "encoding": {
  "x": {"datum": 473.125, "type": "quantitative", "scale": {"domain": [0.375, 468.125], "nice": false, "zero": false}},
  "y": {"field": "v", "type": "quantitative", "scale": {"domain": [4.074, 6.0196], "nice": false, "zero": false}}}},
{"data": {"name": "boxes"}, "mark": {"type": "text", "align": "left", "baseline": "middle", "fontSize": 9.5, "color": "white"},
 "encoding": {
  "x": {"datum": 469.075, "type": "quantitative", "scale": {"domain": [0.375, 468.125], "nice": false, "zero": false}},
  "y": {"field": "v", "type": "quantitative", "scale": {"domain": [4.074, 6.0196], "nice": false, "zero": false}},
  "text": {"field": "v", "format": ".4f"}}}
]
}
